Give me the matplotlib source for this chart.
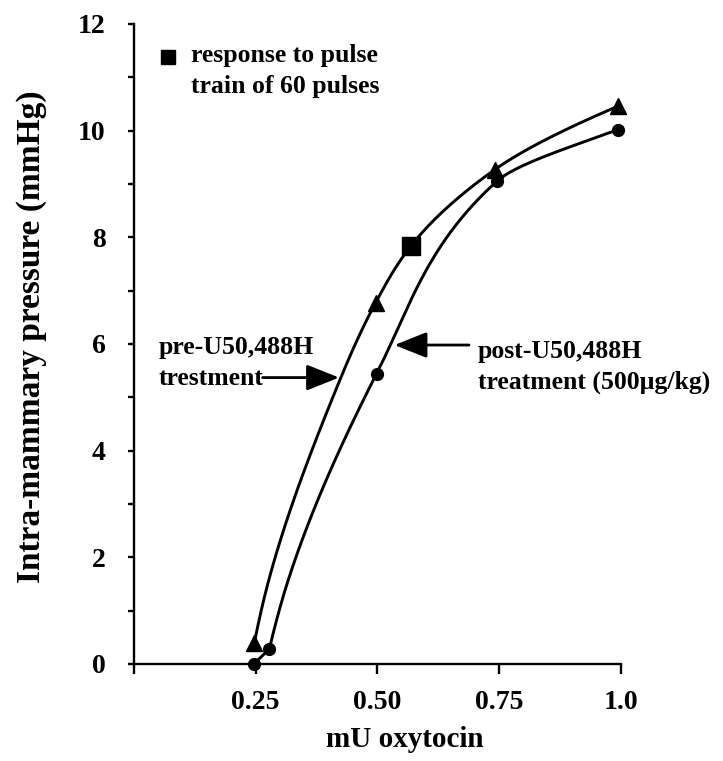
import matplotlib
matplotlib.use("Agg")
import matplotlib.pyplot as plt
import numpy as np

plt.rcParams['font.family'] = ['Liberation Serif', 'DejaVu Serif']
plt.rcParams['font.weight'] = 'bold'

# data points
pre_x = [0.247, 0.496, 0.741, 0.994]
pre_y = [0.39, 6.77, 9.27, 10.46]
post_x = [0.246, 0.278, 0.498, 0.745, 0.994]
post_y = [0.0, 0.28, 5.44, 9.05, 10.02]
pulse_x = [0.568]
pulse_y = [7.83]

# hand-drawn smooth curves
pre_curve_x = [0.247, 0.277, 0.423, 0.496, 0.568, 0.741, 0.994]
pre_curve_y = [0.39, 1.58, 5.33, 6.77, 7.83, 9.27, 10.46]
post_curve_x = [0.278, 0.317, 0.498, 0.745, 0.994]
post_curve_y = [0.28, 1.58, 5.44, 9.05, 10.02]

x_ticks = [0, 0.25, 0.50, 0.75, 1.0]
x_ticklabels = ['', '0.25', '0.50', '0.75', '1.0']
y_ticks = [0, 2, 4, 6, 8, 10, 12]
y_minor = [1, 3, 5, 7, 9, 11]


def pchip(x, y, xs):
    # monotone cubic through the points
    x = np.asarray(x, float)
    y = np.asarray(y, float)
    h = np.diff(x)
    d = np.diff(y) / h
    n = len(x)
    m = np.zeros(n)
    for k in range(1, n - 1):
        if d[k - 1] * d[k] > 0:
            w1 = 2 * h[k] + h[k - 1]
            w2 = h[k] + 2 * h[k - 1]
            m[k] = (w1 + w2) / (w1 / d[k - 1] + w2 / d[k])
    m[0] = ((2 * h[0] + h[1]) * d[0] - h[0] * d[1]) / (h[0] + h[1])
    m[-1] = ((2 * h[-1] + h[-2]) * d[-1] - h[-1] * d[-2]) / (h[-1] + h[-2])
    out = np.empty_like(xs)
    for i, xv in enumerate(xs):
        k = min(max(np.searchsorted(x, xv) - 1, 0), n - 2)
        t = (xv - x[k]) / h[k]
        out[i] = ((2 * t**3 - 3 * t**2 + 1) * y[k] + (t**3 - 2 * t**2 + t) * h[k] * m[k]
                  + (-2 * t**3 + 3 * t**2) * y[k + 1] + (t**3 - t**2) * h[k] * m[k + 1])
    return out


fig = plt.figure(figsize=(7.23, 7.61), dpi=100)
ax = fig.add_axes([0.1853, 0.1275, 0.6736, 0.841])

# curves (steep, so interpolate x as a function of y)
ys = np.linspace(pre_curve_y[0], pre_curve_y[-1], 400)
ax.plot(pchip(pre_curve_y, pre_curve_x, ys), ys, color='black', lw=2.1, clip_on=False)
ys2 = np.linspace(post_curve_y[0], post_curve_y[-1], 400)
ax.plot(pchip(post_curve_y, post_curve_x, ys2), ys2, color='black', lw=2.1, clip_on=False)
ax.plot(post_x[:2], post_y[:2], color='black', lw=2.1, clip_on=False)

# markers
ax.plot(pre_x, pre_y, '^', color='black', ms=11, clip_on=False, zorder=5)
ax.plot(post_x, post_y, 'o', color='black', ms=8.5, clip_on=False, zorder=5)
ax.plot(pulse_x, pulse_y, 's', color='black', ms=13, clip_on=False, zorder=5)

# legend key
ax.plot([0.0698], [0.9477], 's', color='black', ms=10.5, transform=ax.transAxes, clip_on=False)
ax.text(0.117, 0.892, 'response to pulse\ntrain of 60 pulses', transform=ax.transAxes,
        fontsize=18.5, fontweight='bold', va='baseline', ha='left', linespacing=1.45)

# annotations
arrow = dict(arrowstyle='-|>,head_length=1.0,head_width=0.4', color='black', lw=2,
             mutation_scale=20, shrinkA=0, shrinkB=0)
ax.annotate('', xy=(0.421, 5.37), xytext=(0.264, 5.37), arrowprops=arrow)
ax.text(0.0505, 5.234, 'pre-U50,488H\ntrestment', fontsize=18.5, fontweight='bold',
        va='baseline', ha='left', linespacing=1.45)
ax.annotate('', xy=(0.535, 5.98), xytext=(0.688, 5.98), arrowprops=arrow)
ax.text(0.706, 5.16, 'post-U50,488H\ntreatment (500\u00b5g/kg)', fontsize=18.5,
        fontweight='bold', va='baseline', ha='left', linespacing=1.45)

ax.set_xlim(0, 1.0)
ax.set_ylim(0, 12)
ax.set_xticks(x_ticks)
ax.set_xticklabels(x_ticklabels)
ax.set_yticks(y_ticks)
ax.set_yticks(y_minor, minor=True)

for side in ['top', 'right']:
    ax.spines[side].set_visible(False)
for side in ['left', 'bottom']:
    ax.spines[side].set_linewidth(1.7)

ax.tick_params(axis='x', direction='out', length=7, width=1.7, pad=12, labelsize=20)
ax.tick_params(axis='y', which='both', direction='out', length=4.5, width=1.7, pad=16, labelsize=20)

ax.set_xlabel('mU oxytocin', fontsize=21, fontweight='bold')
ax.xaxis.set_label_coords(0.556, -0.097)
ax.set_ylabel('Intra-mammary pressure (mmHg)', fontsize=24, fontweight='bold')
ax.yaxis.set_label_coords(-0.179, 0.511)

fig.savefig('out.png', dpi=100)
